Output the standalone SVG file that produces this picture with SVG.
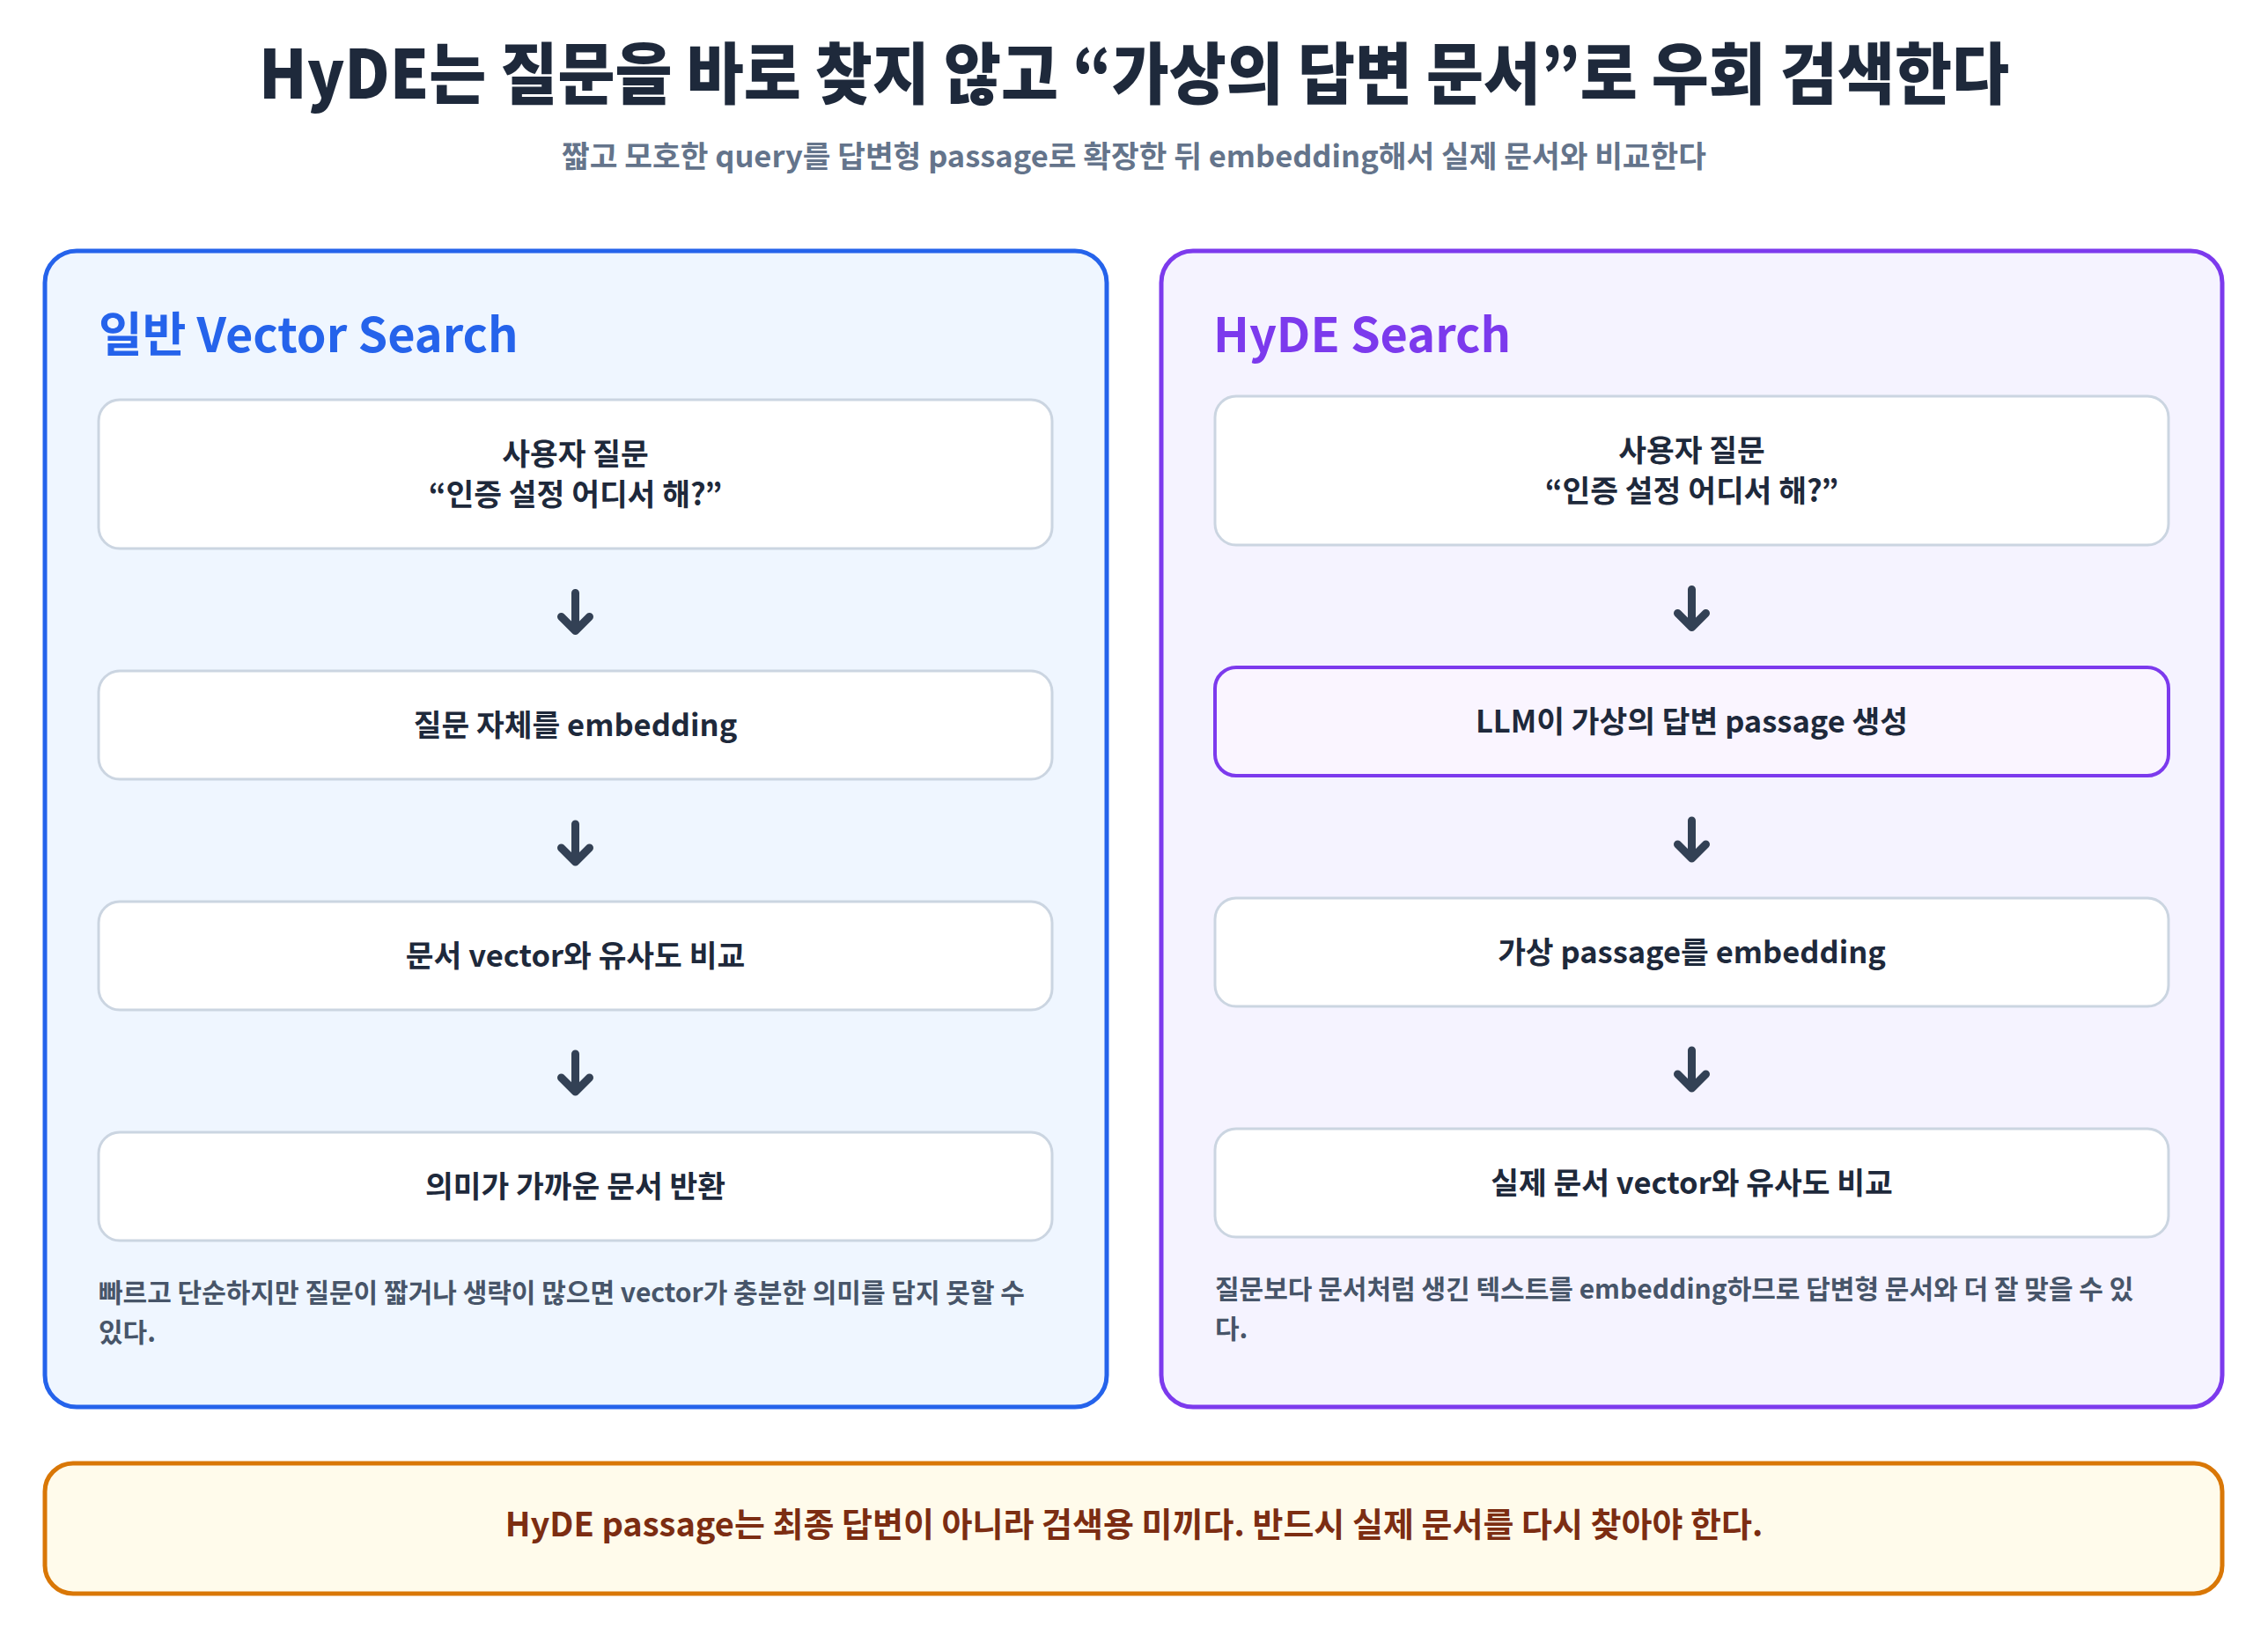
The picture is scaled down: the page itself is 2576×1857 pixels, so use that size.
<svg xmlns="http://www.w3.org/2000/svg" width="2576" height="1857" viewBox="0 0 2576 1857">
<defs>
<style>
text{font-family:"Noto Sans CJK KR","Noto Sans",sans-serif}
.title{font-size:76px;font-weight:900;fill:#1e293b}
.sub{font-size:34px;font-weight:700;fill:#64748b}
.head{font-size:54px;font-weight:700}
.box{fill:#ffffff;stroke:#cbd5e1;stroke-width:3}
.bt{font-size:34.5px;font-weight:700;fill:#1e293b;text-anchor:middle}
.note{font-size:30px;font-weight:700;fill:#475569}
.arrow{fill:none;stroke:#334155;stroke-width:9;stroke-linecap:round;stroke-linejoin:round}
</style>
<path id="arr" d="M0,0 V43 M-16,27 L0,43 L16,27"/>
</defs>
<rect width="2576" height="1857" fill="#ffffff"/>
<g id="header">
<text class="title" x="1288" y="112" text-anchor="middle" textLength="1988" lengthAdjust="spacingAndGlyphs">HyDE는 질문을 바로 찾지 않고 “가상의 답변 문서”로 우회 검색한다</text>
<text class="sub" x="1288" y="190" text-anchor="middle" textLength="1300" lengthAdjust="spacingAndGlyphs">짧고 모호한 query를 답변형 passage로 확장한 뒤 embedding해서 실제 문서와 비교한다</text>
</g>
<g id="panel-vector">
<rect x="51" y="285" width="1206" height="1313" rx="36" fill="#eff6ff" stroke="#2563eb" stroke-width="5"/>
<text class="head" x="112" y="400" fill="#2563eb">일반 Vector Search</text>
</g>
<g id="v1">
<rect class="box" x="112" y="454" width="1083" height="169" rx="24"/>
<text class="bt" x="653.5" y="528">사용자 질문</text>
<text class="bt" x="653.5" y="574">“인증 설정 어디서 해?”</text>
</g>
<g id="v2">
<rect class="box" x="112" y="762" width="1083" height="123" rx="24"/>
<text class="bt" x="653.5" y="836">질문 자체를 embedding</text>
</g>
<g id="v3">
<rect class="box" x="112" y="1024" width="1083" height="123" rx="24"/>
<text class="bt" x="653.5" y="1098">문서 vector와 유사도 비교</text>
</g>
<g id="v4">
<rect class="box" x="112" y="1286" width="1083" height="123" rx="24"/>
<text class="bt" x="653.5" y="1360">의미가 가까운 문서 반환</text>
</g>
<g id="v-note">
<text class="note" x="112" y="1479">빠르고 단순하지만 질문이 짧거나 생략이 많으면 vector가 충분한 의미를 담지 못할 수</text>
<text class="note" x="112" y="1524">있다.</text>
</g>
<g id="panel-hyde">
<rect x="1319" y="285" width="1205" height="1313" rx="36" fill="#f5f3ff" stroke="#7c3aed" stroke-width="5"/>
<text class="head" x="1378" y="400" fill="#7c3aed">HyDE Search</text>
</g>
<g id="h1">
<rect class="box" x="1380" y="450" width="1083" height="169" rx="24"/>
<text class="bt" x="1921.5" y="524">사용자 질문</text>
<text class="bt" x="1921.5" y="570">“인증 설정 어디서 해?”</text>
</g>
<g id="h2">
<rect x="1380" y="758" width="1083" height="123" rx="24" fill="#faf5ff" stroke="#7c3aed" stroke-width="4"/>
<text class="bt" x="1921.5" y="832">LLM이 가상의 답변 passage 생성</text>
</g>
<g id="h3">
<rect class="box" x="1380" y="1020" width="1083" height="123" rx="24"/>
<text class="bt" x="1921.5" y="1094">가상 passage를 embedding</text>
</g>
<g id="h4">
<rect class="box" x="1380" y="1282" width="1083" height="123" rx="24"/>
<text class="bt" x="1921.5" y="1356">실제 문서 vector와 유사도 비교</text>
</g>
<g id="h-note">
<text class="note" x="1380" y="1475">질문보다 문서처럼 생긴 텍스트를 embedding하므로 답변형 문서와 더 잘 맞을 수 있</text>
<text class="note" x="1380" y="1520">다.</text>
</g>
<g id="connectors" class="arrow">
<use href="#arr" x="653.5" y="673.5"/>
<use href="#arr" x="653.5" y="936"/>
<use href="#arr" x="653.5" y="1197"/>
<use href="#arr" x="1921.5" y="669.5"/>
<use href="#arr" x="1921.5" y="932"/>
<use href="#arr" x="1921.5" y="1193"/>
</g>
<g id="banner">
<rect x="51" y="1662" width="2473" height="148" rx="32" fill="#fffbeb" stroke="#d97706" stroke-width="5"/>
<text x="1288" y="1745" text-anchor="middle" font-size="38" font-weight="700" fill="#7c2d12">HyDE passage는 최종 답변이 아니라 검색용 미끼다. 반드시 실제 문서를 다시 찾아야 한다.</text>
</g>
</svg>
